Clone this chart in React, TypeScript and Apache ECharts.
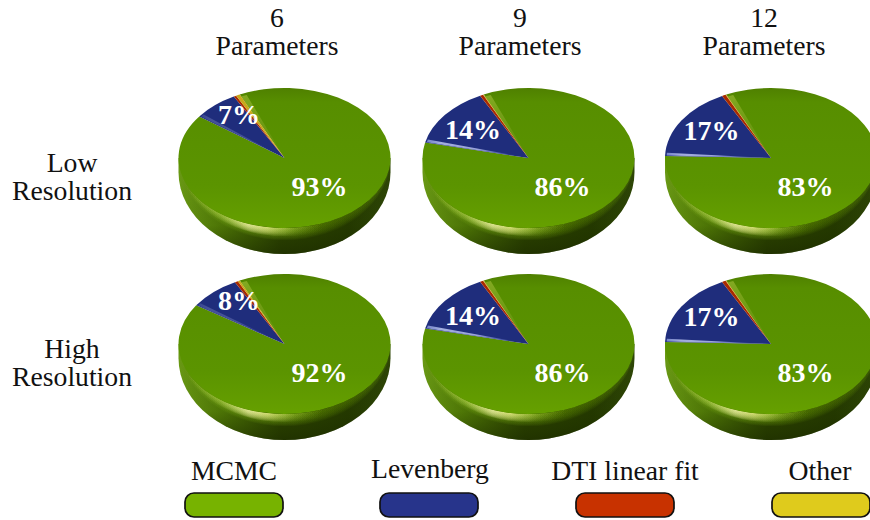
import React, { useEffect, useRef } from "react";
import * as echarts from "echarts";

// Share of fits per method, in the order of the legend.
const methods = ["MCMC", "Levenberg", "DTI linear fit", "Other"];
const methodColors = ["#77b300", "#27348b", "#c83200", "#dfcb1c"];
const faceColors = ["#5a9200", "#1f2d7c", "#a82a00", "#c9a81a"];

const parameterCounts = ["6", "9", "12"];
const resolutionRows = ["Low", "High"];

const lowSix = [93, 7, 0.4, 0.6];
const lowNine = [86, 14, 0.5, 0.1];
const lowTwelve = [83, 17, 0.6, 0.1];
const highSix = [92, 8, 0.5, 0.3];
const highNine = [86, 14, 0.5, 0.1];
const highTwelve = [83, 17, 0.6, 0.1];

const pieValues = [lowSix, lowNine, lowTwelve, highSix, highNine, highTwelve];

// Layout of the grid of discs.
const CENTER_X = [284.5, 528.5, 771];
const CENTER_Y = [158, 344];
const RX = 106;
const RY = 70;
const DEPTH = 26;
const START_DEG = -25;
const HEADER_X = [277, 520, 764];
const MAJOR_LABEL_X = [319.5, 562.5, 805.5];
const MINOR_LABEL_X = [239, 473, 711.5];
const MINOR_LABEL_DY = [-43, -28, -27];

const FONT = '"Liberation Serif", "Times New Roman", serif';

const lg = (x2: number, y2: number, stops: [number, string][]) =>
  new echarts.graphic.LinearGradient(
    0,
    0,
    x2,
    y2,
    stops.map(([offset, color]) => ({ offset, color }))
  );

function drawDisc(cx: number, cy: number) {
  const l = cx - RX;
  const r = cx + RX;
  const wall = `M${l},${cy} L${l},${cy + DEPTH * 0.55} A${RX},${RY + DEPTH * 0.45} 0 0 0 ${r},${cy + DEPTH * 0.55} L${r},${cy} Z`;
  const lune = (t: number) =>
    `M${l},${cy} A${RX},${RY} 0 0 0 ${r},${cy} A${RX},${RY + t} 0 0 1 ${l},${cy} Z`;

  // Many faint crescents give the rounded edge between top and wall.
  const bevel = [12, 11, 10, 9, 8, 7, 6, 5, 4, 3, 2, 1].map((t) => ({
    type: "path",
    shape: { pathData: lune(t) },
    style: {
      fill: lg(1, 0, [
        [0, "rgba(105,150,20,0.14)"],
        [0.45, "rgba(100,145,10,0.13)"],
        [0.75, "rgba(80,120,0,0.09)"],
        [1, "rgba(70,105,0,0.08)"],
      ]),
    },
  }));

  // Soft specular glint at the lower left of the rim, also built in layers.
  const glint = [8, 7, 6, 5, 4, 3, 2, 1].map((t) => ({
    type: "path",
    shape: { pathData: lune(t) },
    style: {
      fill: lg(1, 0, [
        [0.04, "rgba(190,220,90,0)"],
        [0.2, "rgba(190,220,90,0.09)"],
        [0.33, "rgba(245,245,170,0.2)"],
        [0.42, "rgba(235,240,140,0.18)"],
        [0.55, "rgba(170,205,60,0.07)"],
        [0.68, "rgba(120,160,20,0)"],
      ]),
    },
  }));

  return [
    {
      type: "path",
      shape: { pathData: wall },
      style: {
        fill: lg(1, 0, [
          [0, "#6a9a14"],
          [0.2, "#4f7806"],
          [0.48, "#2c4400"],
          [0.8, "#243900"],
          [1, "#2e4606"],
        ]),
      },
    },
    {
      type: "path",
      shape: { pathData: wall },
      style: {
        fill: lg(0, 1, [
          [0, "rgba(30,45,0,0)"],
          [0.7, "rgba(30,45,0,0.05)"],
          [1, "rgba(25,38,0,0.55)"],
        ]),
      },
    },
    ...bevel,
    ...glint,
  ];
}

function makeRenderItem(pieIndex: number) {
  const values = pieValues[pieIndex];
  const col = pieIndex % 3;
  const row = Math.floor(pieIndex / 3);
  const cx = CENTER_X[col];
  const cy = CENTER_Y[row];
  const total = values.reduce((a, b) => a + b, 0);
  const base = (START_DEG - 90) * (Math.PI / 180);

  return (params: any, api: any) => {
    const i = params.dataIndex;
    const value = api.value(0);
    const before = values.slice(0, i).reduce((a, b) => a + b, 0);
    const startAngle = base + (before / total) * Math.PI * 2;
    const endAngle = startAngle + (value / total) * Math.PI * 2;
    const children: any[] = [];

    if (i === 0) children.push(...drawDisc(cx, cy));

    const wedge: any[] = [
      {
        type: "sector",
        shape: { cx: 0, cy: 0, r: RX, r0: 0, startAngle, endAngle },
        style: {
          fill:
            i === 0
              ? lg(0, 1, [
                  [0, "#4f8000"],
                  [0.1, "#578e00"],
                  [0.7, "#5b9400"],
                  [1, "#66a000"],
                ])
              : faceColors[i],
        },
      },
    ];
    if (i === 0) {
      // Raised ridge where the green slice meets the thin slices.
      wedge.push({
        type: "sector",
        shape: { cx: 0, cy: 0, r: RX * 0.97, r0: RX * 0.1, startAngle, endAngle: startAngle + 0.06 },
        style: {
          fill: lg(0, 1, [
            [0, "rgba(140,175,40,0.85)"],
            [1, "rgba(100,145,15,0.6)"],
          ]),
        },
      });
    }
    if (i === 1) {
      // Light bevel along the lower edge of the blue slice.
      const strength = value > 10 ? 0.85 : 0.25;
      wedge.push({
        type: "sector",
        shape: { cx: 0, cy: 0, r: RX * 0.985, r0: RX * 0.1, startAngle: startAngle + 0.008, endAngle: startAngle + 0.048 },
        style: {
          fill: lg(1, 0, [
            [0, `rgba(130,145,215,${strength})`],
            [0.15, `rgba(185,195,240,${strength})`],
            [0.55, `rgba(175,185,235,${strength})`],
            [0.85, `rgba(90,105,185,${strength * 0.7})`],
            [1, "rgba(40,55,140,0)"],
          ]),
        },
      });
    }
    children.push({ type: "group", x: cx, y: cy, scaleY: RY / RX, children: wedge });

    const isMajor = i === 0;
    if (i < 2) {
      children.push({
        type: "text",
        x: isMajor ? MAJOR_LABEL_X[col] : MINOR_LABEL_X[col],
        y: isMajor ? cy + 28 : cy + MINOR_LABEL_DY[col] - 1,
        z2: 10,
        style: {
          text: `${value}%`,
          fill: "#ffffff",
          font: `bold 28px ${FONT}`,
          align: "center",
          verticalAlign: "middle",
        },
      });
    }
    return { type: "group", children };
  };
}

const caption = (text: string, x: number, y: number) => ({
  type: "text",
  x,
  y,
  style: {
    text,
    fill: "#111111",
    font: `27.7px ${FONT}`,
    align: "center",
    verticalAlign: "middle",
  },
});

const LEGEND_X = [185, 380, 576, 772];
const LEGEND_TEXT_X = [234, 430, 625, 820];
const LEGEND_TEXT_Y = [470, 468, 470, 470];

export default function App() {
  const ref = useRef<HTMLDivElement>(null);

  useEffect(() => {
    document.body.style.margin = "0";
    const chart = echarts.init(ref.current!, undefined, { renderer: "svg" });

    const headers = parameterCounts.flatMap((count, c) => [
      caption(count, HEADER_X[c], 17),
      caption("Parameters", HEADER_X[c], 45),
    ]);
    const rows = resolutionRows.flatMap((name, r) => [
      caption(name, 72, CENTER_Y[r] + 4),
      caption("Resolution", 72, CENTER_Y[r] + 32),
    ]);
    const legend = methods.flatMap((name, i) => [
      caption(name, LEGEND_TEXT_X[i], LEGEND_TEXT_Y[i]),
      {
        type: "rect",
        shape: { x: LEGEND_X[i], y: 493, width: 98, height: 24, r: 9 },
        style: { fill: methodColors[i], stroke: "#111111", lineWidth: 1.7 },
      },
    ]);

    chart.setOption({
      animation: false,
      backgroundColor: "#ffffff",
      graphic: { elements: [...headers, ...rows, ...legend] },
      series: pieValues.map((values, p) => ({
        type: "custom",
        coordinateSystem: "none",
        silent: true,
        data: values.map((v) => [v]),
        renderItem: makeRenderItem(p),
      })),
    });

    return () => chart.dispose();
  }, []);

  return <div ref={ref} style={{ width: 870, height: 520 }} />;
}
